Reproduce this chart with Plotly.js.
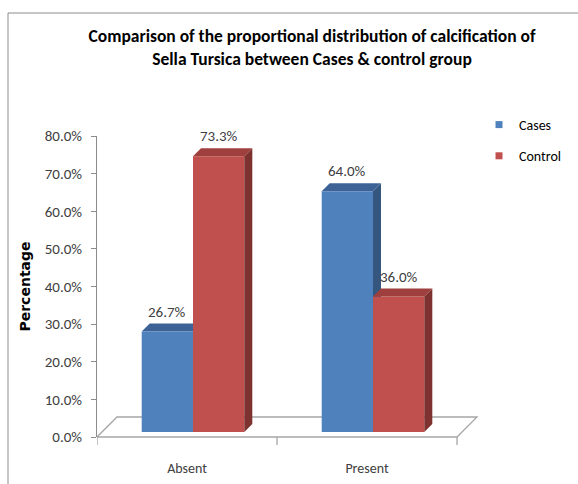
<!DOCTYPE html>
<html><head><meta charset="utf-8">
<script src="https://cdn.plot.ly/plotly-3.0.1.min.js"></script>
<style>html,body{margin:0;padding:0;background:#fff}#chart{width:578px;height:484px}</style>
</head><body><div id="chart"></div>
<script>
// ---- data ----
const categories = ['Absent', 'Present'];
const seriesNames = ['Cases', 'Control'];
const casesValues = [26.7, 64.0];
const controlValues = [73.3, 36.0];
const yTickValues = [0, 10, 20, 30, 40, 50, 60, 70, 80];
const yTickLabels = yTickValues.map(v => v.toFixed(1) + '%');
const titleText = 'Comparison of the proportional distribution of calcification of<br>Sella Tursica between Cases & control group';
const yTitleText = 'Percentage';

// ---- styling / geometry ----
const FONT = 'Carlito, "Liberation Sans Narrow", "DejaVu Sans Condensed", Roboto, sans-serif';
const frontColors = ['#4F81BD', '#C0504D'];
const topColors = ['#3D6396', '#A0403E'];
const sideColors = ['#34567F', '#7D3230'];
const W = 578, H = 484;
const M = {l: 97, r: 4, t: 136, b: 47};
const plotW = W - M.l - M.r, plotH = H - M.t - M.b;
const pxPerCat = 180;
const yMax = 80;
const pxPerUnit = plotH / yMax;
const xr = [-0.5, -0.5 + plotW / pxPerCat];
const shiftX = 6, shiftY = 5;
const x2r = [xr[0] - shiftX / pxPerCat, xr[1] - shiftX / pxPerCat];
const y2r = [-shiftY / pxPerUnit, yMax - shiftY / pxPerUnit];
const depthX = 8 / pxPerCat, depthY = 8 / pxPerUnit;
const floorX = 20 / pxPerCat, floorYp = 20 / plotH;
const bargap = 0.43, barW = (1 - bargap) / 2;
const axisGray = '#8C8C8C';
const series = [casesValues, controlValues];

const traces = series.map((vals, s) => ({
  type: 'bar', name: seriesNames[s], x: categories, y: vals,
  xaxis: 'x2', yaxis: 'y2', showlegend: false,
  marker: {color: frontColors[s], line: {width: 0}},
  hoverinfo: 'x+y'
}));
// legend proxies
seriesNames.forEach((n, s) => traces.push({
  type: 'scatter', mode: 'markers', name: n, x: [null], y: [null],
  legendgroup: 'g' + s, marker: {symbol: 'square', size: 7, color: frontColors[s]},
  showlegend: true
}));

const shapes = [];
// frame
shapes.push({type: 'rect', xref: 'paper', yref: 'paper', layer: 'below',
  x0: (8 - M.l) / plotW, x1: (W + 10 - M.l) / plotW,
  y0: -(M.b + 10) / plotH, y1: (H - M.b - 13) / plotH,
  line: {color: axisGray, width: 1}, fillcolor: 'rgba(0,0,0,0)'});
// floor
const fx0 = -0.5, fx1 = categories.length - 0.5;
shapes.push({type: 'path', xref: 'x', yref: 'paper', layer: 'below',
  path: `M${fx0},0 L${fx1},0 L${fx1 + floorX},${floorYp} L${fx0 + floorX},${floorYp} Z`,
  line: {color: '#A6A6A6', width: 1.3}, fillcolor: 'rgba(0,0,0,0)'});
// category boundary ticks
for (let k = 0; k <= categories.length; k++) {
  shapes.push({type: 'line', xref: 'x', yref: 'paper', layer: 'below',
    x0: k - 0.5, x1: k - 0.5, y0: 0, y1: -8 / plotH,
    line: {color: '#A6A6A6', width: 1.3}});
}
// 3D faces
const faceShapes = [[], []];
series.forEach((vals, s) => {
  vals.forEach((v, i) => {
    const left = i + (s === 0 ? -barW : 0), right = left + barW;
    const layer = s === 0 ? 'below' : 'above';
    faceShapes[s].push({type: 'path', xref: 'x2', yref: 'y2', layer,
      path: `M${right},0 L${right},${v} L${right + depthX},${v + depthY} L${right + depthX},${depthY} Z`,
      fillcolor: sideColors[s], line: {width: 0}});
    faceShapes[s].push({type: 'path', xref: 'x2', yref: 'y2', layer,
      path: `M${left},${v} L${right},${v} L${right + depthX},${v + depthY} L${left + depthX},${v + depthY} Z`,
      fillcolor: topColors[s], line: {width: 0}});
  });
});
shapes.push(...faceShapes[0], ...faceShapes[1]);

// value labels
const annotations = [];
series.forEach((vals, s) => vals.forEach((v, i) => {
  const center = i + (s === 0 ? -barW / 2 : barW / 2);
  annotations.push({xref: 'x2', yref: 'y2', x: center, y: v + depthY,
    text: v.toFixed(1) + '%', showarrow: false, yanchor: 'bottom', yshift: 1,
    font: {family: FONT, size: 15, color: '#404040'}});
}));

const layout = {
  width: W, height: H, margin: M,
  paper_bgcolor: '#fff', plot_bgcolor: 'rgba(0,0,0,0)',
  font: {family: FONT, size: 15, color: '#404040'},
  title: {text: titleText, font: {family: FONT, size: 17.5, color: '#000', weight: 'bold'},
    x: 312 / W, xanchor: 'center', y: 1 - 42 / H, yanchor: 'top', yref: 'container'},
  xaxis: {type: 'linear', range: xr, showline: false, ticks: '', showgrid: false, zeroline: false,
    tickmode: 'array', tickvals: categories.map((c, i) => i), ticktext: categories,
    tickfont: {family: FONT, size: 14, color: '#404040'}, ticklabelstandoff: 21, fixedrange: true},
  yaxis: {range: [0, yMax], tickmode: 'array', tickvals: yTickValues, ticktext: yTickLabels,
    showline: true, linecolor: axisGray, linewidth: 1, ticks: 'outside', ticklen: 5, tickcolor: axisGray,
    showgrid: false, zeroline: false, ticklabelstandoff: 6,
    tickfont: {family: FONT, size: 15, color: '#404040'},
    title: {text: yTitleText, standoff: 10, font: {family: 'DejaVu Sans', size: 14, color: '#000', weight: 'bold'}}},
  xaxis2: {type: 'category', overlaying: 'x', range: x2r, visible: false, fixedrange: true},
  yaxis2: {overlaying: 'y', range: y2r, visible: false, fixedrange: true},
  barmode: 'group', bargap: bargap, bargroupgap: 0,
  showlegend: true,
  legend: {x: (479 - M.l) / plotW, xanchor: 'left', y: (H - M.b - 109) / plotH, yanchor: 'top',
    tracegroupgap: 10, font: {family: FONT, size: 14, color: '#000'}, bgcolor: 'rgba(0,0,0,0)'},
  shapes, annotations
};
Plotly.newPlot('chart', traces, layout, {displayModeBar: false, staticPlot: true});
</script>
</body></html>
